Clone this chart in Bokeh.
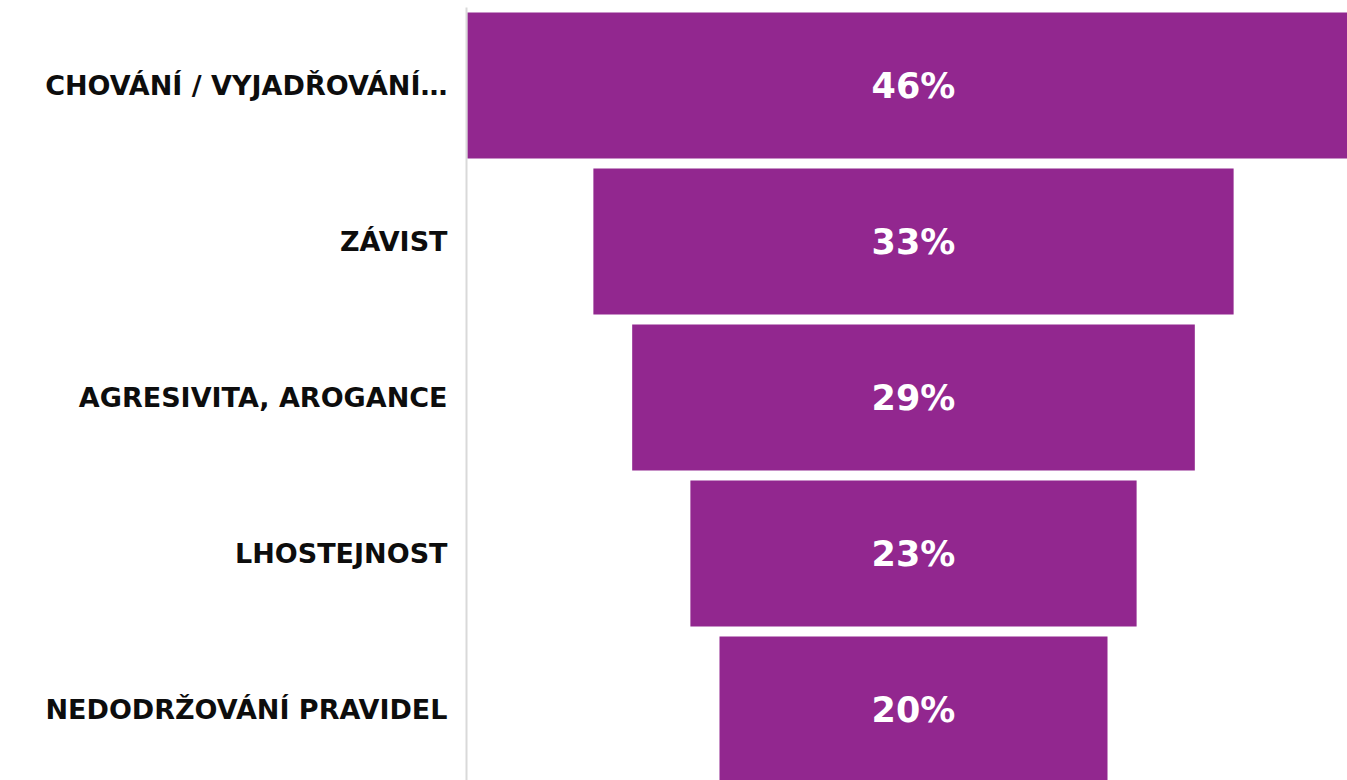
from bokeh.plotting import figure
from bokeh.models import Range1d, FixedTicker, ColumnDataSource
from bokeh.core.properties import value
from bokeh.embed import file_html
from bokeh.resources import INLINE

categories = ["CHOVÁNÍ / VYJADŘOVÁNÍ…", "ZÁVIST", "AGRESIVITA, AROGANCE", "LHOSTEJNOST", "NEDODRŽOVÁNÍ PRAVIDEL"]
values = [46, 33, 29, 23, 20]
value_labels = ["46%", "33%", "29%", "23%", "20%"]

positions = list(range(len(categories)))
src = ColumnDataSource(dict(
    y=positions,
    left=[-v / 2 for v in values],
    right=[v / 2 for v in values],
    lab=value_labels,
    x=[0] * len(values),
))

p = figure(width=1347, height=780, output_backend="svg", toolbar_location=None,
           x_range=Range1d(-23.04, 22.37), y_range=Range1d(4.455, -0.5),
           min_border_left=466, min_border_right=0, min_border_top=7, min_border_bottom=0)

p.hbar(y="y", left="left", right="right", height=0.936, source=src,
       fill_color="#92278F", line_color=None)
p.text(x="x", y="y", text="lab", source=src, text_color="white",
       text_font=value("DejaVu Sans"), text_font_style="bold", text_font_size="35px",
       text_align="center", text_baseline="middle")

p.xaxis.visible = False
p.grid.visible = False
p.outline_line_color = None

ya = p.yaxis[0]
ya.ticker = FixedTicker(ticks=positions)
ya.major_label_overrides = {i: c for i, c in enumerate(categories)}
ya.major_tick_line_color = None
ya.minor_tick_line_color = None
ya.major_tick_out = 0
ya.major_tick_in = 0
ya.major_label_standoff = 19
ya.axis_line_color = "#d9d9d9"
ya.axis_line_width = 2
ya.major_label_text_font = "DejaVu Sans"
ya.major_label_text_font_style = "bold"
ya.major_label_text_font_size = "27px"
ya.major_label_text_color = "#0d0d0d"

open("out.html", "w").write(file_html(p, INLINE))
